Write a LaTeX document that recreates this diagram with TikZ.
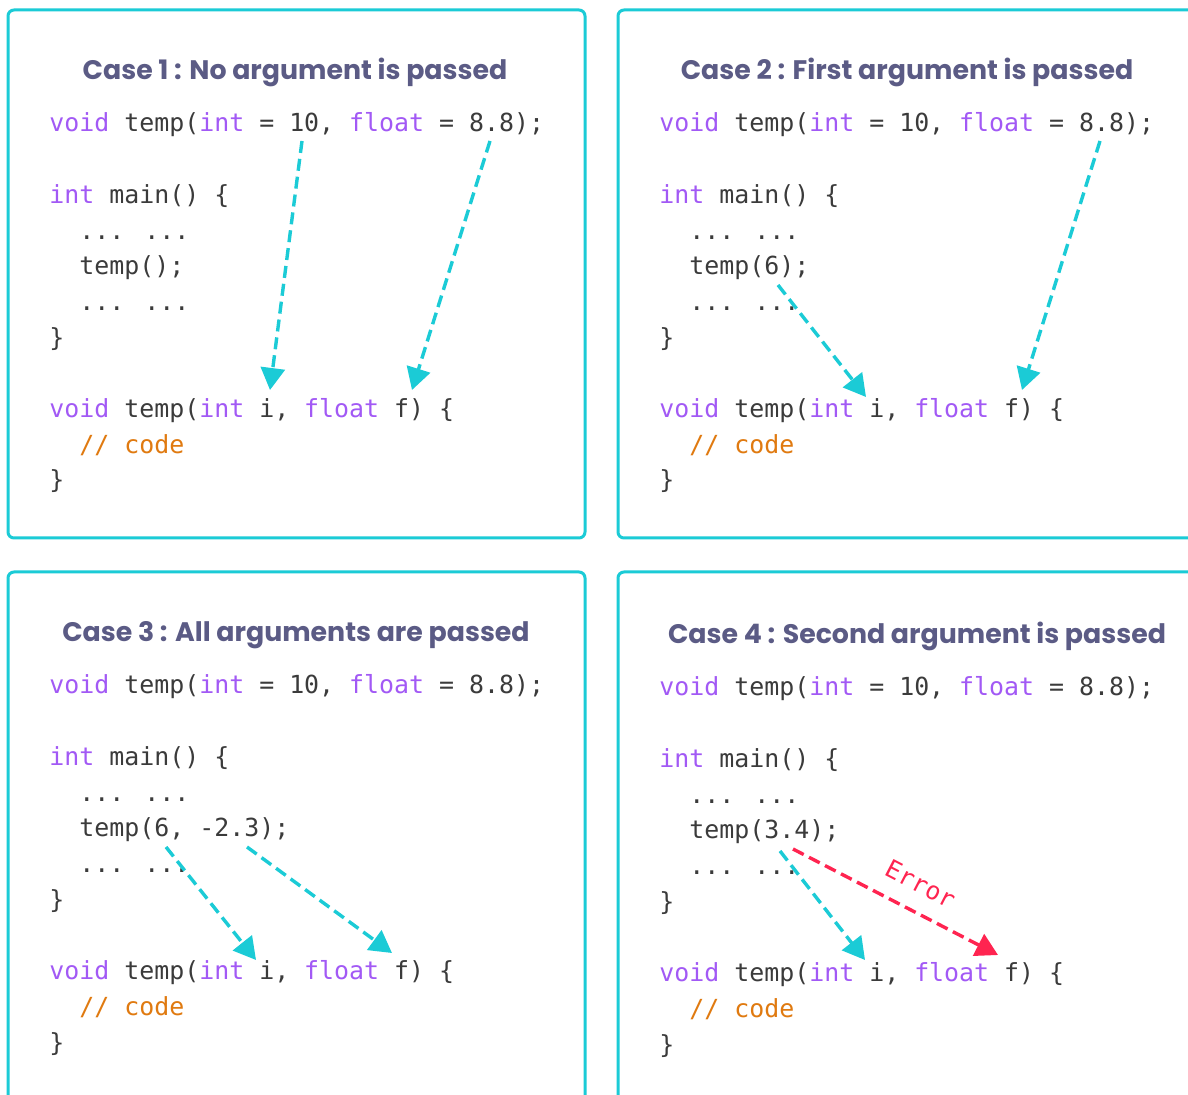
\documentclass[tikz,border=0pt]{standalone}
\usepackage{fontspec}
\usetikzlibrary{arrows.meta}
\newfontfamily\codefont{DejaVu Sans Mono}
\newfontfamily\titlefont{Poppins}
\definecolor{boxcyan}{HTML}{1BCBD6}
\definecolor{kwpurple}{HTML}{A259F5}
\definecolor{plaintext}{HTML}{3B3B3B}
\definecolor{cmtorange}{HTML}{E07A10}
\definecolor{titlegray}{HTML}{5B5B85}
\definecolor{errred}{HTML}{FF2450}
\newcommand\kw[1]{\textcolor{kwpurple}{#1}}
\newcommand\cmt[1]{\textcolor{cmtorange}{#1}}
\tikzset{
  panelbox/.style={draw=boxcyan, line width=1.5pt, rounded corners=3pt},
  casetitle/.style={font=\titlefont\bfseries\fontsize{13.4}{15}\selectfont, text=titlegray, anchor=base, inner sep=0pt},
  codeline/.style={font=\codefont\fontsize{12.45}{14}\selectfont, text=plaintext, anchor=base west, inner sep=0pt},
  passarrow/.style={draw=boxcyan, line width=1.7pt, dash pattern=on 6pt off 3pt, -{Triangle[width=12pt,length=11pt]}},
  errarrow/.style={passarrow, draw=errred},
}
% one code listing: #1 name, #2 left x, #3 first baseline, #4 call inside main
\newcommand\codebody[4]{%
  \node[codeline] (#1-decl) at (#2, #3) {\kw{void} temp(\kw{int} = 10, \kw{float} = 8.8);};
  \node[codeline] (#1-main) at (#2, #3+71.4) {\kw{int} main() \{};
  \node[codeline] (#1-dotsa) at (#2+30, #3+107.1) {... ...};
  \node[codeline] (#1-call) at (#2+30, #3+142.8) {#4};
  \node[codeline] (#1-dotsb) at (#2+30, #3+178.5) {... ...};
  \node[codeline] (#1-close) at (#2, #3+214.2) {\}};
  \node[codeline] (#1-def) at (#2, #3+285.6) {\kw{void} temp(\kw{int} i, \kw{float} f) \{};
  \node[codeline] (#1-body) at (#2+30, #3+321.3) {\cmt{// code}};
  \node[codeline] (#1-end) at (#2, #3+357) {\}};
}
\begin{document}
\begin{tikzpicture}[x=0.5pt, y=-0.5pt]
  \useasboundingbox (0,0) rectangle (1188,1095);
  \clip (0,0) rectangle (1188,1095);
  \fill[white] (0,0) rectangle (1188,1095);

  % boxes
  \draw[panelbox] (8,10) rectangle (585,538);
  \draw[panelbox] (618,10) rectangle (1210,538);
  \draw[panelbox] (8,572) rectangle (585,1110);
  \draw[panelbox] (618,572) rectangle (1210,1110);

  % titles
  \node[casetitle] (t1) at (295,80) {Case 1 : No argument is passed};
  \node[casetitle] (t2) at (907,80) {Case 2 : First argument is passed};
  \node[casetitle] (t3) at (296,642) {Case 3 : All arguments are passed};
  \node[casetitle] (t4) at (917,644) {Case 4 : Second argument is passed};

  % code
  \codebody{c1}{49}{132}{temp();}
  \codebody{c2}{659}{132}{temp(6);}
  \codebody{c3}{49}{694}{temp(6, -2.3);}
  \codebody{c4}{659}{696}{temp(3.4);}

  % arrow ends
  \coordinate (c1-ten) at (302,141);
  \coordinate (c1-eight) at (490,141);
  \coordinate (c1-i) at (270,390);
  \coordinate (c1-f) at (412,390);
  \coordinate (c2-six) at (778,285);
  \coordinate (c2-eight) at (1100,141);
  \coordinate (c2-i) at (866,397);
  \coordinate (c2-f) at (1022,390);
  \coordinate (c3-six) at (166,847);
  \coordinate (c3-neg) at (247,847);
  \coordinate (c3-i) at (256,960);
  \coordinate (c3-f) at (392,953);
  \coordinate (c4-a) at (780,851);
  \coordinate (c4-b) at (793,849);
  \coordinate (c4-i) at (865,960);
  \coordinate (c4-f) at (998,955);

  % arrows
  \draw[passarrow] (c1-ten) -- (c1-i);
  \draw[passarrow] (c1-eight) -- (c1-f);
  \draw[passarrow] (c2-six) -- (c2-i);
  \draw[passarrow] (c2-eight) -- (c2-f);
  \draw[passarrow] (c3-six) -- (c3-i);
  \draw[passarrow] (c3-neg) -- (c3-f);
  \draw[passarrow] (c4-a) -- (c4-i);
  \draw[errarrow] (c4-b) -- node[pos=0.56, above=5pt, sloped, font=\codefont\fontsize{12.45}{14}\selectfont, text=errred] (err) {Error} (c4-f);
\end{tikzpicture}
\end{document}
